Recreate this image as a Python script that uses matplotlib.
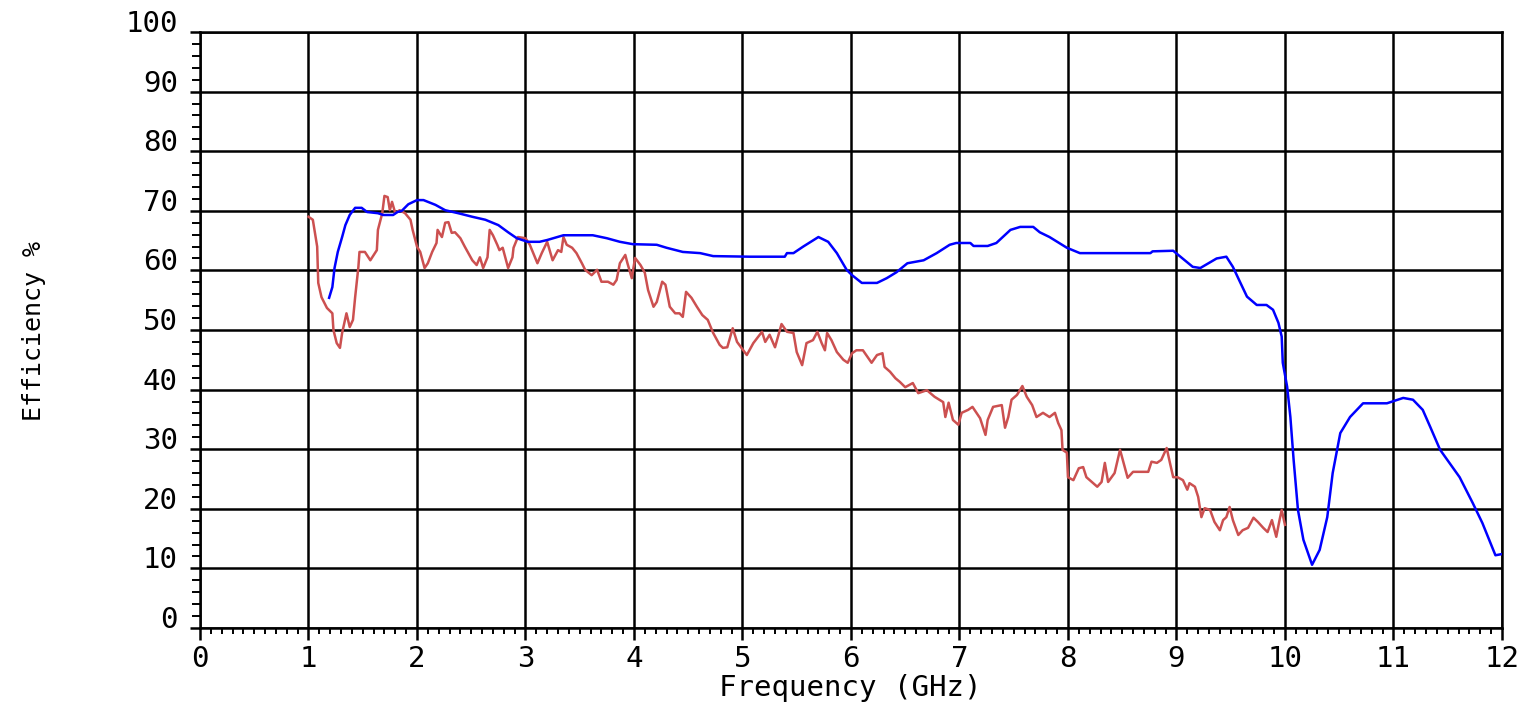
import numpy as np
import matplotlib
matplotlib.use("Agg")
import matplotlib.pyplot as plt
from matplotlib.ticker import MultipleLocator

# blue curve (simulated efficiency)
blue_f = [1.19, 1.22, 1.24, 1.27, 1.31, 1.34, 1.38, 1.43, 1.49, 1.54, 1.64, 1.69, 1.78, 1.82, 1.86,
          1.92, 2.0, 2.06, 2.17, 2.26, 2.38, 2.51, 2.63, 2.75, 2.84, 2.92, 3.02, 3.13, 3.2, 3.35,
          3.62, 3.75, 3.87, 3.99, 4.21, 4.3, 4.45, 4.61, 4.73, 5.07, 5.39, 5.41, 5.47, 5.56, 5.7,
          5.79, 5.87, 5.96, 6.01, 6.1, 6.24, 6.33, 6.42, 6.52, 6.67, 6.79, 6.91, 6.97, 7.1, 7.13,
          7.26, 7.34, 7.47, 7.56, 7.68, 7.74, 7.83, 7.99, 8.11, 8.76, 8.78, 8.97, 9.15, 9.22, 9.37,
          9.46, 9.52, 9.59, 9.65, 9.74, 9.83, 9.89, 9.94, 9.97, 9.98, 10.02, 10.05, 10.08, 10.12,
          10.17, 10.25, 10.32, 10.39, 10.44, 10.51, 10.6, 10.72, 10.94, 11.09, 11.18, 11.27, 11.34,
          11.43, 11.61, 11.73, 11.82, 11.94, 12.0]
blue_eff = [55.4, 57.2, 60.4, 63.1, 65.6, 67.6, 69.3, 70.5, 70.5, 69.8, 69.6, 69.3, 69.3, 69.8, 70.0,
            71.1, 71.8, 71.8, 71.0, 70.1, 69.6, 69.0, 68.5, 67.6, 66.4, 65.4, 64.8, 64.8, 65.1, 65.9,
            65.9, 65.4, 64.8, 64.4, 64.3, 63.8, 63.1, 62.9, 62.4, 62.3, 62.3, 62.9, 62.9, 64.0, 65.6,
            64.8, 62.9, 60.1, 59.2, 57.9, 57.9, 58.7, 59.7, 61.2, 61.7, 62.9, 64.3, 64.6, 64.6, 64.1,
            64.1, 64.6, 66.8, 67.3, 67.3, 66.4, 65.6, 63.8, 62.9, 62.9, 63.2, 63.3, 60.6, 60.4, 62.0,
            62.3, 60.6, 57.9, 55.6, 54.2, 54.2, 53.4, 51.2, 48.9, 44.5, 40.5, 35.4, 28.2, 19.8,
            14.8, 10.6, 13.1, 18.6, 26.0, 32.7, 35.4, 37.7, 37.7, 38.6, 38.3, 36.6, 33.7,
            29.9, 25.3, 21.0, 17.6, 12.2, 12.4]

# red curve (measured efficiency)
red_f = [1.0, 1.04, 1.08, 1.09, 1.12, 1.17, 1.22, 1.23, 1.26, 1.29, 1.31, 1.35, 1.38, 1.41, 1.43,
         1.46, 1.47, 1.52, 1.57, 1.63, 1.64, 1.68, 1.7, 1.73, 1.75, 1.77, 1.8, 1.84, 1.89, 1.94,
         1.96, 2.0, 2.03, 2.07, 2.1, 2.14, 2.18, 2.19, 2.23, 2.26, 2.29, 2.32, 2.35, 2.4, 2.44,
         2.51, 2.55, 2.58, 2.61, 2.65, 2.67, 2.7, 2.74, 2.76, 2.79, 2.84, 2.88, 2.89, 2.93, 3.0,
         3.04, 3.11, 3.15, 3.2, 3.25, 3.3, 3.33, 3.35, 3.38, 3.43, 3.47, 3.52, 3.55, 3.61, 3.66,
         3.7, 3.76, 3.81, 3.84, 3.87, 3.92, 3.94, 3.98, 4.01, 4.06, 4.1, 4.13, 4.18, 4.21, 4.26,
         4.29, 4.33, 4.38, 4.42, 4.45, 4.48, 4.53, 4.58, 4.63, 4.68, 4.73, 4.79, 4.82, 4.86, 4.91,
         4.95, 5.04, 5.1, 5.18, 5.21, 5.25, 5.3, 5.36, 5.41, 5.47, 5.5, 5.55, 5.59, 5.65, 5.69,
         5.73, 5.76, 5.78, 5.82, 5.87, 5.93, 5.97, 6.01, 6.05, 6.11, 6.16, 6.19, 6.24, 6.29, 6.31,
         6.36, 6.41, 6.45, 6.5, 6.57, 6.62, 6.7, 6.77, 6.85, 6.87, 6.9, 6.94, 6.99, 7.02, 7.08,
         7.12, 7.19, 7.24, 7.26, 7.31, 7.39, 7.42, 7.45, 7.48, 7.53, 7.58, 7.62, 7.67, 7.71, 7.77,
         7.83, 7.88, 7.91, 7.94, 7.95, 7.99, 8.0, 8.05, 8.1, 8.14, 8.17, 8.22, 8.27, 8.31, 8.34,
         8.37, 8.43, 8.48, 8.51, 8.55, 8.6, 8.66, 8.74, 8.77, 8.82, 8.86, 8.91, 8.94, 8.97, 9.01,
         9.06, 9.1, 9.12, 9.17, 9.2, 9.23, 9.26, 9.31, 9.35, 9.4, 9.43, 9.46, 9.49, 9.52, 9.57,
         9.61, 9.66, 9.71, 9.75, 9.8, 9.84, 9.88, 9.92, 9.95, 9.97, 10.0]
red_eff = [69.0, 68.5, 64.0, 57.9, 55.5, 53.7, 52.8, 50.0, 47.8, 47.0, 49.5, 52.8, 50.5, 51.7, 55.5,
           60.6, 63.1, 63.1, 61.7, 63.4, 66.8, 69.6, 72.5, 72.3, 70.1, 71.5, 69.6, 70.1, 69.6, 68.5,
           66.8, 64.0, 63.1, 60.4, 61.2, 63.1, 64.6, 66.8, 65.6, 68.0, 68.1, 66.3, 66.4, 65.4, 64.0,
           61.7, 60.9, 62.2, 60.4, 62.2, 66.8, 65.9, 64.3, 63.4, 63.8, 60.4, 62.2, 63.8, 65.6, 65.4,
           64.3, 61.2, 62.9, 64.8, 61.7, 63.4, 63.1, 65.6, 64.3, 63.8, 62.9, 61.2, 60.1, 59.2, 60.1,
           58.1, 58.1, 57.6, 58.4, 61.2, 62.6, 61.2, 58.7, 62.1, 60.9, 59.6, 56.7, 53.9, 54.7, 58.1,
           57.6, 53.9, 52.8, 52.8, 52.2, 56.4, 55.4, 53.9, 52.5, 51.7, 49.5, 47.5, 47.0, 47.1, 50.3,
           48.0, 45.8, 47.8, 49.7, 48.0, 49.2, 47.1, 51.0, 49.7, 49.5, 46.3, 44.1, 47.8, 48.3, 49.7,
           47.8, 46.6, 49.5, 48.3, 46.3, 45.0, 44.5, 46.1, 46.6, 46.6, 45.3, 44.5, 45.8, 46.1, 43.8,
           43.0, 41.9, 41.3, 40.4, 41.1, 39.4, 39.9, 38.8, 37.9, 35.4, 37.8, 34.9, 34.1, 36.1, 36.6,
           37.1, 35.2, 32.4, 34.9, 37.1, 37.4, 33.6, 35.4, 38.3, 39.1, 40.6, 38.8, 37.4, 35.4, 36.1,
           35.4, 36.1, 34.4, 33.2, 29.9, 29.4, 25.3, 24.8, 26.8, 27.0, 25.3, 24.5, 23.7, 24.5, 27.7,
           24.5, 26.0, 29.9, 27.9, 25.2, 26.2, 26.2, 26.2, 27.9, 27.7, 28.2, 30.2, 27.7, 25.3, 25.3,
           24.8, 23.2, 24.3, 23.7, 22.0, 18.6, 20.1, 19.8, 17.8, 16.4, 18.1, 18.6, 20.3, 18.1, 15.6,
           16.4, 16.8, 18.5, 17.8, 16.8, 16.1, 18.1, 15.3, 18.1, 19.8, 17.3]

xticks = np.arange(0, 13, 1)
yticks = np.arange(0, 101, 10)

plt.rcParams['font.family'] = ['DejaVu Sans Mono']

fig = plt.figure(figsize=(15.29, 7.04), dpi=100)
ax = fig.add_axes([0.1308, 0.108, 0.8515, 0.8465])

ax.plot(red_f, red_eff, color='#cc5050', lw=1.8, zorder=3)
ax.plot(blue_f, blue_eff, color='#0000ff', lw=1.8, zorder=3)

ax.set_xlim(0, 12)
ax.set_ylim(0, 100)
ax.set_xticks(xticks)
ax.set_yticks(yticks)
ax.xaxis.set_minor_locator(MultipleLocator(0.1))
ax.yaxis.set_minor_locator(MultipleLocator(2))
ax.grid(True, which='major', color='black', lw=1.8)
ax.set_axisbelow(True)
for s in ax.spines.values():
    s.set_linewidth(1.8)

ax.tick_params(axis='both', which='major', labelsize=21, width=1.8, color='black')
ax.tick_params(axis='x', which='major', length=8.5, pad=4)
ax.tick_params(axis='y', which='major', length=7, pad=9)
ax.tick_params(axis='x', which='minor', length=4, width=1.4)
ax.tick_params(axis='y', which='minor', length=5.5, width=1.4)
for lbl in ax.get_yticklabels():
    lbl.set_va('baseline')

# x label sits low, just under the tick labels
fig.text(0.556, 0.012, 'Frequency (GHz)', fontsize=21, ha='center', va='baseline')
fig.text(0.022, 0.53, 'Efficiency %', fontsize=18, rotation=90, ha='center', va='center')

fig.savefig('out.png', dpi=100)
